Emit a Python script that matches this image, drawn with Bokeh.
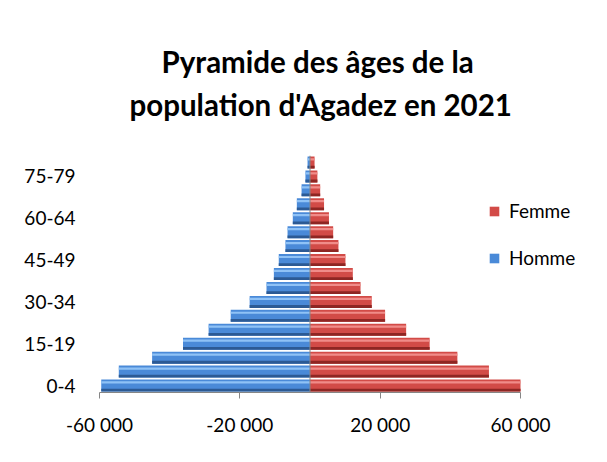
from bokeh.plotting import figure
from bokeh.models import (ColumnDataSource, Range1d, FixedTicker,
                          Span, Title, Legend, LegendItem)
from bokeh.transform import dodge
from bokeh.embed import file_html
from bokeh.resources import INLINE

# ---- data ----
ages = ["0-4", "5-9", "10-14", "15-19", "20-24", "25-29", "30-34", "35-39",
        "40-44", "45-49", "50-54", "55-59", "60-64", "65-69", "70-74",
        "75-79", "80+"]
homme = [59500, 54500, 45000, 36200, 28900, 22600, 17200, 12400, 10300,
         8900, 7000, 6400, 4900, 3750, 2400, 1300, 700]
femme = [60000, 51000, 42000, 34100, 27400, 21400, 17600, 14400, 12200,
         10100, 8100, 6600, 5400, 4000, 2900, 2100, 1300]
title_line1 = "Pyramide des âges de la"
title_line2 = "population d'Agadez en 2021"
x_ticks = [-60000, -20000, 20000, 60000]
x_tick_labels = ["-60 000", "-20 000", "20 000", "60 000"]
series_names = ["Femme", "Homme"]
label_every = 3

FONT = "Lato"

pos = list(range(len(ages)))
src = ColumnDataSource(dict(pos=pos, age=ages,
                            homme=[-v for v in homme], femme=femme))

# frame extends to the right of the axis end so the legend is not clipped
p = figure(width=607, height=462,
           y_range=Range1d(-0.5, len(ages) - 0.5),
           x_range=Range1d(x_ticks[0], x_ticks[-1] * 1.38),
           output_backend="svg", toolbar_location=None,
           min_border_left=99, min_border_right=7,
           min_border_top=155, min_border_bottom=70)

p.background_fill_color = "white"
p.border_fill_color = "white"
p.outline_line_color = None
p.xgrid.grid_line_color = None
p.ygrid.grid_line_color = None

# panels added first sit closest to the frame; p.title is outermost
spacer = Title(text=" ", standoff=28, text_font_size="1px")
p.add_layout(spacer, "above")
t2 = Title(text=title_line2, align="left", offset=30, standoff=6,
           text_font=FONT, text_font_size="29.5px", text_font_style="bold",
           text_color="black")
p.add_layout(t2, "above")
p.title.text = title_line1
p.title.align = "left"
p.title.offset = 62
p.title.standoff = 6
p.title.text_font = FONT
p.title.text_font_size = "29.5px"
p.title.text_font_style = "bold"
p.title.text_color = "black"

styles = {
    "homme": ("#4a8ad8", "#2c5a94", "#8fc2f6"),
    "femme": ("#d24b47", "#8e2623", "#f08c89"),
}
renderers = {}
for col in ["homme", "femme"]:
    base, dark, light = styles[col]
    r = p.hbar(y="pos", left=0, right=col, height=0.86, source=src,
               fill_color=base, line_color=None)
    p.hbar(y=dodge("pos", -0.33), left=0, right=col,
           height=0.2, source=src, fill_color=dark, line_color=None)
    p.hbar(y=dodge("pos", 0.22), left=0, right=col,
           height=0.16, source=src, fill_color=light, line_color=None)
    renderers[col] = r

p.add_layout(Span(location=0, dimension="height", line_color="#868686",
                  line_width=1))

# x axis (line limited to the tick span)
p.xaxis.bounds = (x_ticks[0], x_ticks[-1])
p.xaxis.ticker = FixedTicker(ticks=x_ticks)
p.xaxis.major_label_overrides = dict(zip(x_ticks, x_tick_labels))
p.xaxis.axis_line_color = "#868686"
p.xaxis.major_tick_line_color = "#868686"
p.xaxis.major_tick_in = 0
p.xaxis.major_tick_out = 6
p.xaxis.minor_tick_line_color = None
p.xaxis.major_label_standoff = 14
p.xaxis.major_label_text_font = FONT
p.xaxis.major_label_text_font_size = "19px"
p.xaxis.major_label_text_color = "black"

# y axis: one label every third age group
y_ticks = pos[::label_every]
p.yaxis.ticker = FixedTicker(ticks=y_ticks)
p.yaxis.major_label_overrides = {i: ages[i] for i in y_ticks}
p.yaxis.axis_line_color = None
p.yaxis.major_tick_line_color = None
p.yaxis.minor_tick_line_color = None
p.yaxis.major_label_standoff = 18
p.yaxis.major_label_text_font = FONT
p.yaxis.major_label_text_font_size = "19px"
p.yaxis.major_label_text_color = "black"

legend = Legend(items=[LegendItem(label=series_names[0], renderers=[renderers["femme"]]),
                       LegendItem(label=series_names[1], renderers=[renderers["homme"]])],
                location=(389, 123), border_line_color=None,
                background_fill_alpha=0, padding=0, margin=0,
                glyph_width=12, glyph_height=12, label_height=20,
                spacing=24, label_standoff=9,
                label_text_font=FONT, label_text_font_size="19px",
                label_text_color="black")
p.add_layout(legend)

open("out.html", "w").write(file_html(p, INLINE))
